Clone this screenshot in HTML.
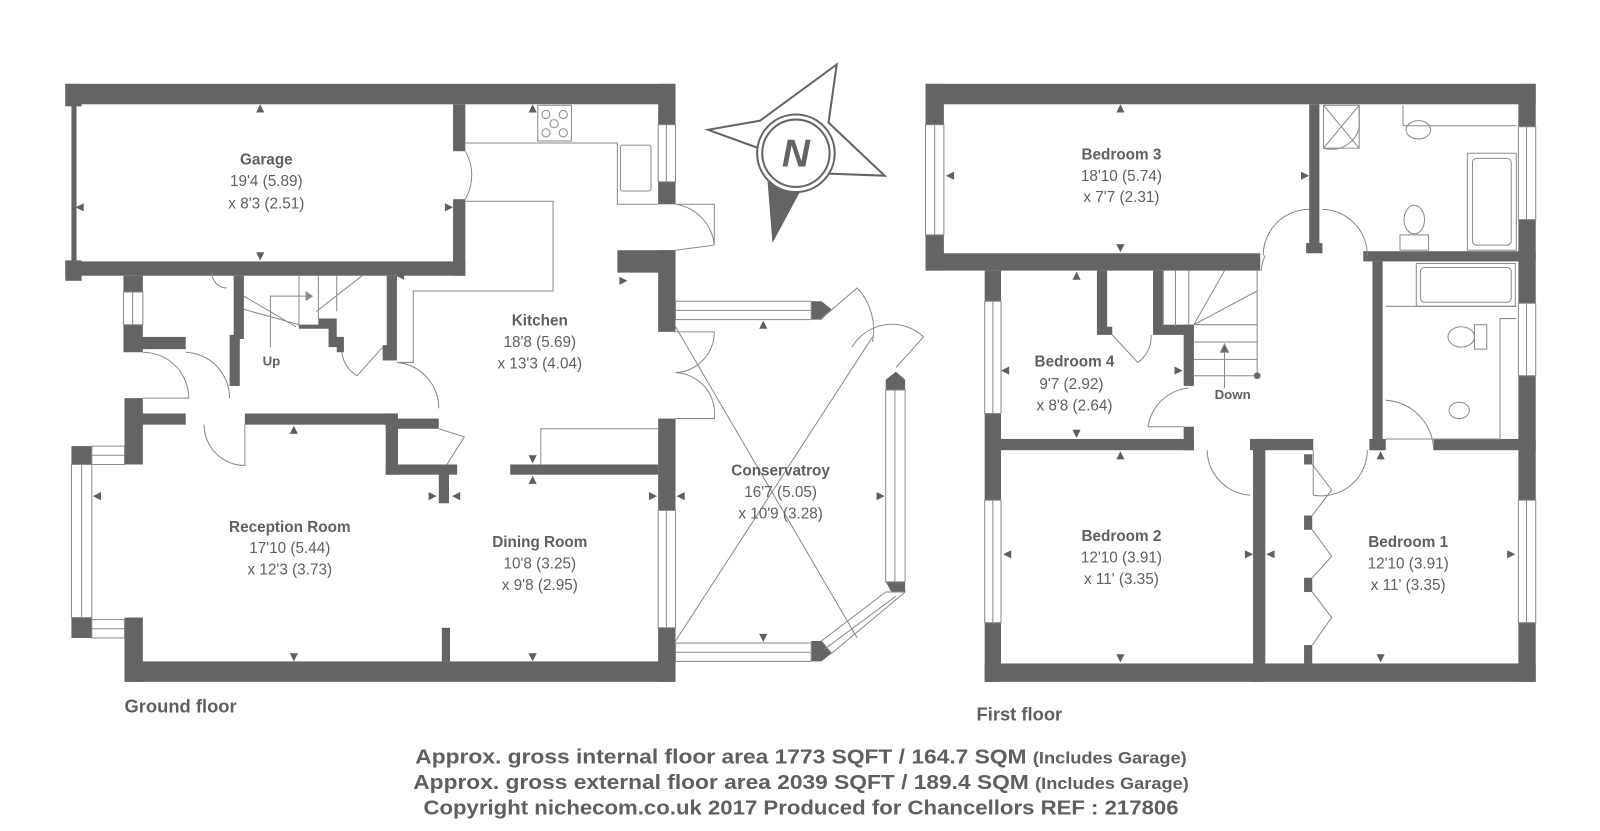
<!DOCTYPE html>
<html><head><meta charset="utf-8"><style>
html,body{margin:0;padding:0;background:#fff;}
svg{display:block;}
text{font-family:"Liberation Sans",sans-serif;fill:#5f5f5f;}
.t{font-weight:bold;font-size:15px;}
.d{font-size:15px;}
</style></head><body>
<svg width="1600" height="831" viewBox="0 0 1568 814" xmlns="http://www.w3.org/2000/svg">
<defs>
<g id="au"><polygon points="-4,4 4,4 0,-4" fill="#5f5f5f"/></g>
<g id="ad"><polygon points="-4,-4 4,-4 0,4" fill="#5f5f5f"/></g>
<g id="al"><polygon points="4,-4 4,4 -4,0" fill="#5f5f5f"/></g>
<g id="ar"><polygon points="-4,-4 -4,4 4,0" fill="#5f5f5f"/></g>
</defs>
<g fill="#646464">
<!-- GROUND FLOOR -->
<rect x="64" y="82" width="598" height="20"/>
<rect x="64" y="82" width="16" height="22"/>
<rect x="70" y="102" width="5" height="156"/>
<rect x="64" y="255" width="16" height="20"/>
<rect x="64" y="256" width="392" height="14"/>
<rect x="444" y="102" width="12" height="46"/>
<rect x="444" y="195" width="12" height="75"/>
<rect x="645" y="82" width="17" height="40"/>
<rect x="645" y="178" width="17" height="22"/>
<rect x="605" y="245" width="57" height="22"/>
<rect x="645" y="245" width="17" height="80"/>
<rect x="645" y="410" width="17" height="90"/>
<rect x="645" y="615" width="17" height="53"/>
<rect x="122" y="648" width="540" height="20"/>
<rect x="433" y="615" width="8" height="33"/>
<rect x="122" y="605" width="18" height="63"/>
<rect x="70" y="605" width="20" height="20"/>
<rect x="70" y="437" width="20" height="18"/>
<rect x="122" y="390" width="18" height="65"/>
<rect x="122" y="405" width="60" height="11"/>
<rect x="240" y="405" width="140" height="11"/>
<rect x="378" y="405" width="12" height="60"/>
<rect x="378" y="410" width="52" height="10"/>
<rect x="378" y="455" width="70" height="10"/>
<rect x="430" y="455" width="10" height="38"/>
<rect x="500" y="455" width="145" height="10"/>
<rect x="121" y="270" width="19" height="16"/>
<rect x="121" y="318" width="19" height="27"/>
<rect x="121" y="330" width="61" height="12"/>
<rect x="229" y="270" width="10" height="62"/>
<rect x="225" y="328" width="10" height="50"/>
<rect x="379" y="270" width="10" height="83"/>
<polygon points="293,318 312,318 312,312 330,312 330,330 337,330 337,345 330,345 330,340 322,340 322,322 293,322"/>
<rect x="375" y="338" width="10" height="15"/>
<!-- conservatory blocks -->
<polygon points="795,295 805,295 815,303 805,313 795,313"/>
<polygon points="868,372 878,364 887,372 887,382 868,382"/>
<polygon points="868,570 887,570 887,580 878,588"/>
<polygon points="795,628 805,628 815,640 805,648 795,648"/>
<!-- compass -->
<polygon points="752,175 786,184 757,238"/>
<!-- FIRST FLOOR -->
<rect x="907" y="82" width="598" height="20"/>
<rect x="907" y="82" width="18" height="40"/>
<rect x="907" y="230" width="18" height="35"/>
<rect x="907" y="248" width="328" height="17"/>
<rect x="1283" y="102" width="10" height="145"/>
<rect x="1280" y="238" width="16" height="10"/>
<rect x="1336" y="246" width="169" height="10"/>
<rect x="1345" y="256" width="10" height="185"/>
<rect x="1488" y="82" width="17" height="42"/>
<rect x="1488" y="215" width="17" height="82"/>
<rect x="1488" y="368" width="17" height="122"/>
<rect x="1488" y="610" width="17" height="58"/>
<rect x="965" y="265" width="16" height="30"/>
<rect x="965" y="405" width="16" height="85"/>
<rect x="965" y="610" width="16" height="58"/>
<rect x="965" y="650" width="540" height="18"/>
<rect x="980" y="430" width="190" height="11"/>
<rect x="1160" y="418" width="10" height="23"/>
<rect x="1075" y="265" width="10" height="62"/>
<rect x="1075" y="320" width="15" height="8"/>
<rect x="1130" y="265" width="10" height="55"/>
<rect x="1130" y="318" width="40" height="10"/>
<rect x="1160" y="318" width="10" height="60"/>
<rect x="1228" y="430" width="12" height="238"/>
<rect x="1225" y="430" width="62" height="11"/>
<rect x="1342" y="430" width="16" height="11"/>
<rect x="1405" y="430" width="100" height="11"/>
<rect x="1278" y="445" width="8" height="10"/>
<rect x="1278" y="505" width="8" height="14"/>
<rect x="1278" y="566" width="8" height="14"/>
<rect x="1278" y="632" width="8" height="18"/>
</g>
<!-- windows -->
<g fill="#fff" stroke="#8a8a8a" stroke-width="1">
<rect x="645" y="122" width="17" height="56"/><line x1="653" y1="122" x2="653" y2="178"/>
<rect x="645" y="500" width="17" height="115"/><line x1="653" y1="500" x2="653" y2="615"/>
<rect x="70" y="455" width="20" height="150"/><line x1="80" y1="455" x2="80" y2="605"/>
<rect x="90" y="437" width="32" height="18"/><line x1="90" y1="446" x2="122" y2="446"/>
<rect x="90" y="607" width="32" height="18"/><line x1="90" y1="616" x2="122" y2="616"/>
<rect x="121" y="286" width="19" height="32"/><line x1="130" y1="286" x2="130" y2="318"/>
<rect x="662" y="295" width="133" height="18"/><line x1="662" y1="304" x2="795" y2="304"/>
<rect x="868" y="382" width="19" height="188"/><line x1="877" y1="382" x2="877" y2="570"/>
<rect x="662" y="630" width="133" height="18"/><line x1="662" y1="639" x2="795" y2="639"/>
<polygon points="868,580 887,580 815,640 805,628"/><line x1="878" y1="584" x2="808" y2="636"/>
<rect x="907" y="122" width="18" height="108"/><line x1="916" y1="122" x2="916" y2="230"/>
<rect x="965" y="295" width="16" height="110"/><line x1="973" y1="295" x2="973" y2="405"/>
<rect x="965" y="490" width="16" height="120"/><line x1="973" y1="490" x2="973" y2="610"/>
<rect x="1488" y="124" width="17" height="91"/><line x1="1496" y1="124" x2="1496" y2="215"/>
<rect x="1488" y="297" width="17" height="71"/><line x1="1496" y1="297" x2="1496" y2="368"/>
<rect x="1488" y="490" width="17" height="120"/><line x1="1496" y1="490" x2="1496" y2="610"/>
</g>
<!-- thin lines: fittings, doors -->
<g fill="none" stroke="#8a8a8a" stroke-width="1">
<polyline points="456,140 605,140 605,200 645,200"/>
<rect x="527" y="103" width="33" height="35"/>
<circle cx="535" cy="112" r="4"/><circle cx="552" cy="112" r="4"/><circle cx="543" cy="121" r="4"/><circle cx="535" cy="130" r="4"/><circle cx="552" cy="130" r="4"/>
<rect x="608" y="142" width="30" height="45" rx="2"/>
<polyline points="456,197 542,197 542,285 405,285 405,355 389,355"/>
<path d="M456,148 A47,47 0 0 1 456,195"/>
<path d="M662,200 L700,200 L700,240 A45,45 0 0 0 662,200"/>
<path d="M662,245 L700,240"/>
<path d="M662,325 L700,325 A40,40 0 0 1 662,365"/>
<path d="M662,410 L700,410 A40,40 0 0 0 662,365"/>
<path d="M530,455 L530,420 L645,420"/>
<path d="M140,345 A45,45 0 0 1 185,390 L140,390"/>
<path d="M182,345 A45,45 0 0 1 225,390"/>
<path d="M200,416 A40,40 0 0 0 240,456 L240,416"/>
<path d="M389,355 A45,45 0 0 1 430,400"/>
<path d="M335,345 A30,30 0 0 0 350,368 L375,340"/>
<path d="M430,420 L455,428 L438,455"/>
<path d="M239,290 L290,320 M239,303 L293,318 M293,270 L293,320 M312,270 L312,312 M330,270 L330,305 M310,305 L355,270"/>
<path d="M265,340 L265,290 L300,290"/>
<polygon points="300,286 306,290 300,294" fill="#8a8a8a"/>
<path d="M208,268 A14,14 0 0 0 222,282"/>
<path d="M805,312 L840,282 A60,60 0 0 1 855,335"/>
<path d="M835,340 A45,45 0 0 1 905,330 L878,360"/>
<line x1="662" y1="320" x2="840" y2="625"/>
<line x1="662" y1="628" x2="855" y2="330"/>
<!-- first floor fittings -->
<rect x="1297" y="103" width="35" height="42"/>
<path d="M1297,103 L1332,145 M1332,103 L1297,145"/>
<path d="M1332,103 L1332,125 A28,28 0 0 1 1297,145"/>
<path d="M1375,103 L1375,123 L1486,123"/>
<ellipse cx="1390" cy="127" rx="12" ry="9"/>
<rect x="1438" y="150" width="48" height="95"/><rect x="1443" y="155" width="38" height="85" rx="4"/>
<ellipse cx="1386" cy="215" rx="10" ry="14"/><rect x="1372" y="230" width="28" height="15"/>
<rect x="1388" y="258" width="97" height="42"/><rect x="1392" y="262" width="89" height="34" rx="4"/>
<polyline points="1358,300 1486,300"/>
<polyline points="1358,430 1470,430 1470,312 1486,312"/>
<ellipse cx="1432" cy="330" rx="13" ry="10"/><rect x="1445" y="318" width="12" height="24"/>
<ellipse cx="1430" cy="402" rx="10" ry="8"/>
<path d="M1140,265 L1140,320 M1152,265 L1152,320 M1165,265 L1165,318 M1170,318 L1232,318 M1170,335 L1232,335 M1170,352 L1232,352 M1170,368 L1232,368 M1170,318 L1232,285 M1170,318 L1200,265"/>
<path d="M1232,265 L1232,368"/><circle cx="1232" cy="368" r="3" fill="#646464"/>
<path d="M1200,380 L1200,340"/><polygon points="1196,345 1204,345 1200,337" fill="#646464"/>
<path d="M1090,328 L1115,355 A30,30 0 0 0 1128,328"/>
<path d="M1165,380 A45,45 0 0 0 1125,418 L1160,418"/>
<path d="M1240,250 A40,40 0 0 0 1236,265 M1283,205 A45,45 0 0 0 1238,250"/>
<path d="M1296,205 A45,45 0 0 1 1340,250"/>
<path d="M1183,441 A45,45 0 0 0 1225,485"/>
<path d="M1287,441 L1287,485 A45,45 0 0 0 1340,441"/>
<path d="M1358,392 A50,50 0 0 1 1405,441"/>
<path d="M1286,455 L1305,480 L1286,505 M1286,519 L1305,545 L1286,566 M1286,580 L1305,605 L1286,632"/>
<!-- compass -->
<polygon points="694,127 745,118 820,63 812,120 867,172 812,170" stroke="#646464" stroke-width="2"/>
</g>
<circle cx="780" cy="150" r="38" fill="#fff" stroke="#646464" stroke-width="2"/>
<circle cx="780" cy="150" r="33" fill="none" stroke="#646464" stroke-width="2"/>
<text x="780" y="163" text-anchor="middle" style="font-size:38px;font-weight:bold;font-style:italic;fill:#646464">N</text>
<!-- dimension arrows -->
<use href="#au" x="255" y="106"/><use href="#ad" x="255" y="251"/><use href="#al" x="78" y="203"/><use href="#ar" x="440" y="203"/>
<use href="#au" x="522" y="106"/><use href="#al" x="392" y="270"/><use href="#ar" x="611" y="275"/>
<use href="#au" x="288" y="421"/><use href="#ad" x="288" y="644"/><use href="#al" x="95" y="486"/><use href="#ar" x="424" y="486"/>
<use href="#ad" x="522" y="450"/><use href="#au" x="522" y="470"/><use href="#ad" x="522" y="644"/>
<use href="#al" x="447" y="486"/><use href="#ar" x="640" y="486"/><use href="#al" x="667" y="486"/><use href="#ar" x="863" y="486"/>
<use href="#au" x="748" y="318"/><use href="#ad" x="748" y="625"/>
<use href="#au" x="1098" y="106"/><use href="#ad" x="1098" y="243"/><use href="#al" x="931" y="172"/><use href="#ar" x="1279" y="172"/>
<use href="#au" x="1055" y="270"/><use href="#ad" x="1055" y="425"/><use href="#al" x="985" y="363"/><use href="#ar" x="1155" y="363"/>
<use href="#au" x="1098" y="446"/><use href="#ad" x="1098" y="645"/><use href="#al" x="987" y="543"/><use href="#ar" x="1224" y="543"/>
<use href="#au" x="1353" y="446"/><use href="#ad" x="1353" y="645"/><use href="#al" x="1245" y="543"/><use href="#ar" x="1481" y="543"/>
<!-- labels -->
<g text-anchor="middle">
<text class="t" x="261" y="161">Garage</text><text class="d" x="261" y="182">19'4 (5.89)</text><text class="d" x="261" y="204">x 8'3 (2.51)</text>
<text class="t" x="529" y="319">Kitchen</text><text class="d" x="529" y="340">18'8 (5.69)</text><text class="d" x="529" y="361">x 13'3 (4.04)</text>
<text class="d" x="266" y="358" style="font-weight:bold;font-size:13px">Up</text>
<text class="t" x="284" y="521">Reception Room</text><text class="d" x="284" y="542">17'10 (5.44)</text><text class="d" x="284" y="563">x 12'3 (3.73)</text>
<text class="t" x="529" y="536">Dining Room</text><text class="d" x="529" y="557">10'8 (3.25)</text><text class="d" x="529" y="578">x 9'8 (2.95)</text>
<text class="t" x="765" y="466">Conservatroy</text><text class="d" x="765" y="487">16'7 (5.05)</text><text class="d" x="765" y="508">x 10'9 (3.28)</text>
<text class="t" x="1099" y="156">Bedroom 3</text><text class="d" x="1099" y="177">18'10 (5.74)</text><text class="d" x="1099" y="198">x 7'7 (2.31)</text>
<text class="t" x="1053" y="359">Bedroom 4</text><text class="d" x="1050" y="381">9'7 (2.92)</text><text class="d" x="1053" y="402">x 8'8 (2.64)</text>
<text x="1208" y="391" style="font-weight:bold;font-size:13px">Down</text>
<text class="t" x="1099" y="530">Bedroom 2</text><text class="d" x="1099" y="551">12'10 (3.91)</text><text class="d" x="1099" y="572">x 11' (3.35)</text>
<text class="t" x="1380" y="536">Bedroom 1</text><text class="d" x="1380" y="557">12'10 (3.91)</text><text class="d" x="1380" y="578">x 11' (3.35)</text>
</g>
<text x="122" y="698" style="font-weight:bold;font-size:18px">Ground floor</text>
<text x="957" y="706" style="font-weight:bold;font-size:18px">First floor</text>
<g style="font-weight:bold;font-size:20px">
<text x="407" y="748" textLength="756" lengthAdjust="spacingAndGlyphs">Approx. gross internal floor area 1773 SQFT / 164.7 SQM <tspan style="font-size:16px">(Includes Garage)</tspan></text>
<text x="405" y="773" textLength="760" lengthAdjust="spacingAndGlyphs">Approx. gross external floor area 2039 SQFT / 189.4 SQM <tspan style="font-size:16px">(Includes Garage)</tspan></text>
<text x="415" y="798" textLength="740" lengthAdjust="spacingAndGlyphs">Copyright nichecom.co.uk 2017 Produced for Chancellors REF : 217806</text>
</g>
</svg>
</body></html>
